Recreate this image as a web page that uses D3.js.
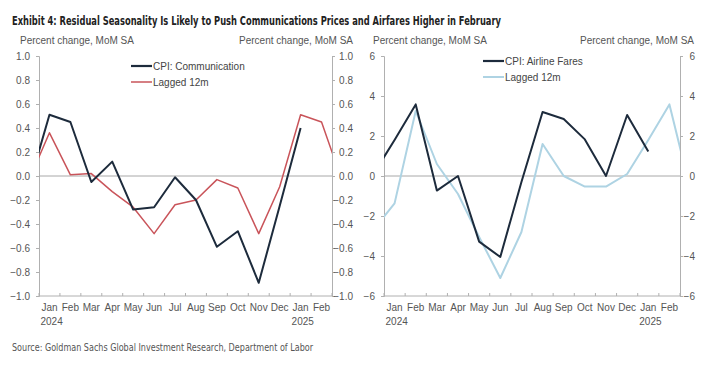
<!DOCTYPE html>
<html><head><meta charset="utf-8">
<script src="https://cdn.jsdelivr.net/npm/d3@7/dist/d3.min.js"></script>
<style>
body{margin:0;background:#fff;}
svg{display:block;}
text{font-family:"Liberation Sans",Arial,sans-serif;}
.narrow{font-family:"Liberation Sans Narrow","DejaVu Sans Condensed","Liberation Sans",sans-serif;}
</style></head><body>
<svg id="chart" width="722" height="383"></svg>
<script>
// ---- data ----
const title = "Exhibit 4: Residual Seasonality Is Likely to Push Communications Prices and Airfares Higher in February";
const source = "Source: Goldman Sachs Global Investment Research, Department of Labor";
const unitLabel = "Percent change, MoM SA";
const monthLabels = ["Jan","Feb","Mar","Apr","May","Jun","Jul","Aug","Sep","Oct","Nov","Dec","Jan","Feb"];
const yearLabels = [{i:0, t:"2024"}, {i:12, t:"2025"}];
// series start at Dec 2023 (month index -1), index 0 = Jan 2024
const startIndex = -1;
const commCpi = [-0.09, 0.51, 0.45, -0.05, 0.12, -0.28, -0.26, -0.01, -0.20, -0.59, -0.46, -0.89, -0.25, 0.40];
const commLag = [-0.04, 0.36, 0.01, 0.02, -0.13, -0.26, -0.48, -0.24, -0.20, -0.03, -0.10, -0.48, -0.09, 0.51, 0.45, -0.05];
const airCpi  = [0.10, 1.80, 3.58, -0.73, 0.00, -3.28, -4.05, -0.30, 3.20, 2.85, 1.83, 0.00, 3.05, 1.22];
const airLag  = [-2.69, -1.37, 3.25, 0.60, -0.90, -3.05, -5.10, -2.80, 1.60, 0.00, -0.53, -0.53, 0.10, 1.80, 3.58, -0.73];
const commTicks = [1.0,0.8,0.6,0.4,0.2,0.0,-0.2,-0.4,-0.6,-0.8,-1.0];
const airTicks = [6,4,2,0,-2,-4,-6];

const svg = d3.select("#chart");
const axisGray = "#b0b0b0", textGray = "#555";

svg.append("text").attr("x",12).attr("y",25).attr("class","narrow")
  .attr("font-weight","bold").attr("font-size",13).attr("fill","#222")
  .attr("textLength",489).attr("lengthAdjust","spacingAndGlyphs").text(title);
svg.append("text").attr("x",12).attr("y",351).attr("class","narrow")
  .attr("font-size",10).attr("fill",textGray)
  .attr("textLength",301).attr("lengthAdjust","spacingAndGlyphs").text(source);

function panel(cfg){
  const x = d3.scaleLinear().domain([-0.5,13.5]).range([cfg.x0,cfg.x1]);
  const y = d3.scaleLinear().domain(cfg.dom).range([296,56]);
  const g = svg.append("g");
  const clipId = "clip"+cfg.id;
  svg.append("clipPath").attr("id",clipId).append("rect")
    .attr("x",cfg.x0).attr("y",40).attr("width",cfg.x1-cfg.x0).attr("height",270);
  // unit labels
  g.append("text").attr("x",cfg.ulx).attr("y",44).attr("font-size",10).attr("fill",textGray).text(unitLabel);
  g.append("text").attr("x",cfg.urx).attr("y",44).attr("font-size",10).attr("fill",textGray).attr("text-anchor","end").text(unitLabel);
  // y axes
  const la = g.append("g").attr("transform",`translate(${cfg.x0},0)`)
    .call(d3.axisLeft(y).tickValues(cfg.ticks).tickSize(3).tickPadding(6).tickFormat(cfg.fmt));
  const ra = g.append("g").attr("transform",`translate(${cfg.x1},0)`)
    .call(d3.axisRight(y).tickValues(cfg.ticks).tickSize(3).tickPadding(6).tickFormat(cfg.fmt));
  ra.selectAll("text").attr("text-anchor","end").attr("x",cfg.rlab);
  [la,ra].forEach(a=>{
    a.select(".domain").attr("stroke",axisGray);
    a.selectAll(".tick line").attr("stroke",axisGray);
    a.selectAll("text").attr("fill",textGray).attr("font-size",10).attr("font-family","Liberation Sans, Arial, sans-serif");
  });
  // x axis
  g.append("line").attr("x1",cfg.x0).attr("x2",cfg.x1).attr("y1",y(cfg.dom[0])).attr("y2",y(cfg.dom[0])).attr("stroke",axisGray);
  g.selectAll(".xt").data(d3.range(-0.5,14,1)).enter().append("line")
    .attr("x1",d=>x(d)).attr("x2",d=>x(d)).attr("y1",y(cfg.dom[0])).attr("y2",y(cfg.dom[0])-3).attr("stroke",axisGray);
  g.selectAll(".xl").data(monthLabels).enter().append("text")
    .attr("x",(d,i)=>x(i)).attr("y",311).attr("text-anchor","middle").attr("font-size",10).attr("fill",textGray).text(d=>d);
  g.selectAll(".yl").data(yearLabels).enter().append("text")
    .attr("x",d=>x(d.i)-9).attr("y",325).attr("font-size",10).attr("fill",textGray).text(d=>d.t);
  // zero line
  g.append("line").attr("x1",cfg.x0).attr("x2",cfg.x1).attr("y1",y(0)).attr("y2",y(0)).attr("stroke","#a8a8a8").attr("stroke-width",1);
  const line = d3.line().x((d,i)=>x(i+startIndex)).y(d=>y(d));
  const lg = g.append("g").attr("clip-path",`url(#${clipId})`);
  lg.append("path").datum(cfg.lag).attr("d",line).attr("fill","none").attr("stroke",cfg.lagColor).attr("stroke-width",cfg.lagW).attr("stroke-linejoin","round");
  lg.append("path").datum(cfg.cpi).attr("d",line).attr("fill","none").attr("stroke","#1d2b3c").attr("stroke-width",2).attr("stroke-linejoin","round");
  // legend
  const leg = [{t:cfg.cpiName,c:"#1d2b3c",w:2.2},{t:"Lagged 12m",c:cfg.lagColor,w:cfg.lagW}];
  leg.forEach((d,i)=>{
    const yy = cfg.ly + i*16;
    g.append("line").attr("x1",cfg.lx).attr("x2",cfg.lx+21).attr("y1",yy).attr("y2",yy).attr("stroke",d.c).attr("stroke-width",d.w);
    g.append("text").attr("x",cfg.lx+22).attr("y",yy+3.5).attr("font-size",10).attr("fill","#444").text(d.t);
  });
}

panel({id:"a", x0:39, x1:332, dom:[-1,1], ticks:commTicks, fmt:d3.format(".1f"),
  ulx:20, urx:353, rlab:21, cpi:commCpi, lag:commLag, lagColor:"#c9545a", lagW:1.5,
  cpiName:"CPI: Communication", lx:131, ly:66});
panel({id:"b", x0:384, x1:680, dom:[-6,6], ticks:airTicks, fmt:d3.format("d"),
  ulx:373, urx:694, rlab:15, cpi:airCpi, lag:airLag, lagColor:"#aed3e3", lagW:2,
  cpiName:"CPI: Airline Fares", lx:483, ly:61});
</script></body></html>
